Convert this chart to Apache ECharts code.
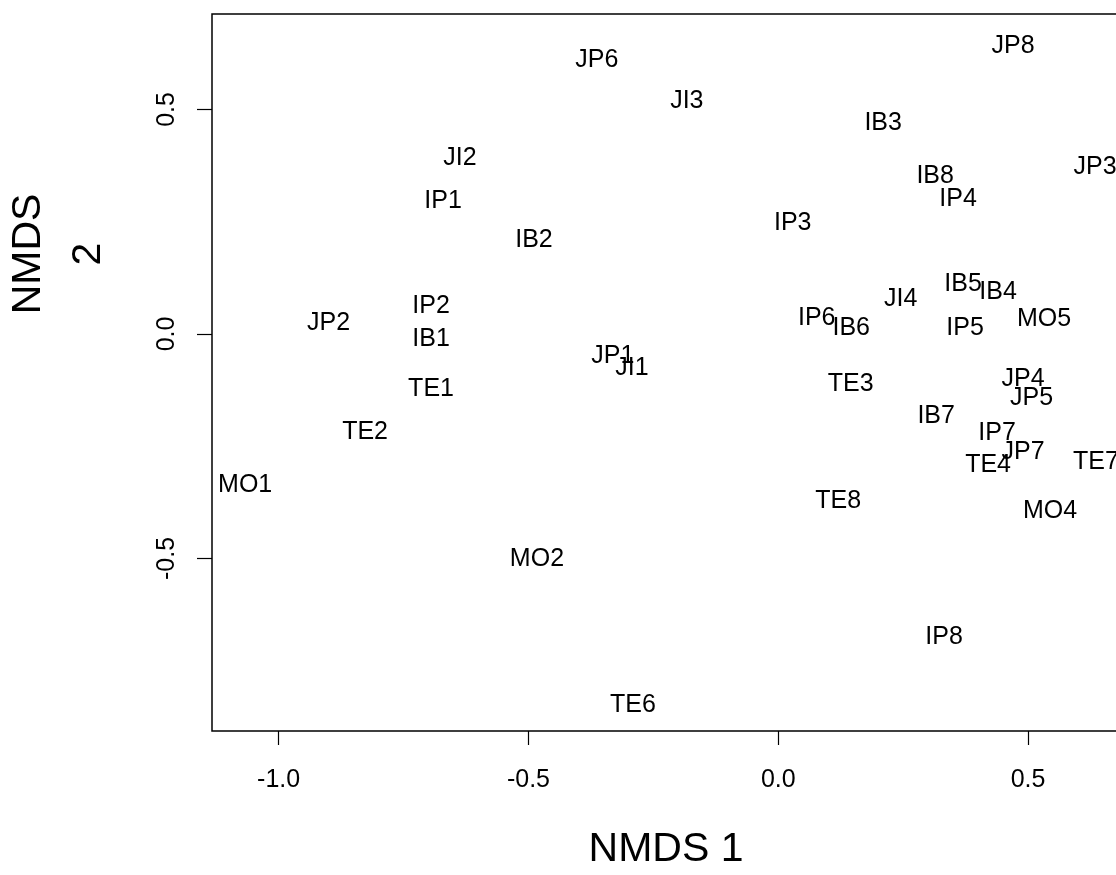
<!DOCTYPE html>
<html>
<head>
<meta charset="utf-8">
<script src="https://cdn.jsdelivr.net/npm/echarts@6/dist/echarts.min.js"></script>
<style>
  html, body { margin: 0; padding: 0; background: #ffffff; overflow: hidden; }
  /* the plot frame runs slightly past the right edge of the window */
  #chart { width: 1124px; height: 875px; }
</style>
</head>
<body>
<div id="chart"></div>
<script>
// NMDS ordination: site labels and their scores on the two axes
const siteLabels = ['JP8','JP6','JI3','IB3','JP3','JI2','IB8','IP4','IP1','IP3',
                    'IB2','IB5','IB4','JI4','IP2','IP6','MO5','JP2','IB6','IP5',
                    'IB1','JP1','JI1','JP4','TE3','TE1','JP5','IB7','TE2','IP7',
                    'JP7','TE7','TE4','MO1','TE8','MO4','MO2','IP8','TE6'];
const nmds1 = [ 0.470,-0.363,-0.183, 0.210, 0.634,-0.637, 0.314, 0.360,-0.671, 0.029,
               -0.489, 0.370, 0.440, 0.245,-0.695, 0.077, 0.532,-0.900, 0.146, 0.374,
               -0.695,-0.331,-0.293, 0.490, 0.145,-0.695, 0.507, 0.316,-0.827, 0.438,
                0.490, 0.636, 0.420,-1.067, 0.120, 0.544,-0.483, 0.332,-0.291];
const nmds2 = [ 0.642, 0.609, 0.519, 0.470, 0.372, 0.391, 0.351, 0.301, 0.296, 0.246,
                0.210, 0.111, 0.094, 0.078, 0.061, 0.036, 0.034, 0.025, 0.014, 0.014,
               -0.012,-0.050,-0.076,-0.100,-0.111,-0.122,-0.144,-0.182,-0.219,-0.221,
               -0.263,-0.285,-0.292,-0.336,-0.373,-0.395,-0.501,-0.675,-0.827];

const xTicks = [-1.0, -0.5, 0.0, 0.5];
const yTicks = [-0.5, 0.0, 0.5];
const xTitle = 'NMDS 1';
const yTitle = 'NMDS\n2';

const points = siteLabels.map((name, i) => ({ name: name, value: [nmds1[i], nmds2[i]] }));

const chart = echarts.init(document.getElementById('chart'), null, { renderer: 'canvas' });

const FONT = 'Liberation Sans, Arial, sans-serif';
const tickFont = { fontFamily: FONT, fontSize: 25, color: '#000' };

chart.setOption({
  animation: false,
  backgroundColor: '#ffffff',
  grid: {
    show: true,
    left: 212, top: 14, right: 4, bottom: 136,
    borderColor: '#000', borderWidth: 1.5,
    backgroundColor: 'transparent'
  },
  xAxis: {
    type: 'value',
    min: -1.1334, max: 0.684,
    axisLine: { show: false, onZero: false },
    splitLine: { show: false },
    axisTick: { show: true, inside: false, length: 14, customValues: xTicks,
                lineStyle: { color: '#000', width: 1.2 } },
    axisLabel: Object.assign({ customValues: xTicks, margin: 37,
                formatter: v => v.toFixed(1) }, tickFont),
    name: xTitle,
    nameLocation: 'middle',
    nameGap: 98,
    nameTextStyle: { fontFamily: FONT, fontSize: 41, color: '#000' }
  },
  yAxis: {
    type: 'value',
    min: -0.8843, max: 0.7126,
    axisLine: { show: false, onZero: false },
    splitLine: { show: false },
    axisTick: { show: true, inside: false, length: 15, customValues: yTicks,
                lineStyle: { color: '#000', width: 1.2 } },
    axisLabel: Object.assign({ customValues: yTicks, margin: 32, rotate: 90,
                formatter: v => v.toFixed(1) }, tickFont)
  },
  graphic: [{
    type: 'text',
    x: 59, y: 254,
    rotation: Math.PI / 2,
    style: {
      text: yTitle,
      fontFamily: FONT,
      fontSize: 41,
      lineHeight: 60,
      fill: '#000',
      align: 'center',
      verticalAlign: 'middle'
    }
  }],
  series: [{
    type: 'scatter',
    data: points,
    symbolSize: 1,
    itemStyle: { color: 'transparent', opacity: 1 },
    label: {
      show: true,
      position: 'inside',
      formatter: p => p.name,
      fontFamily: FONT,
      fontSize: 25,
      color: '#000',
      opacity: 1,
      textBorderWidth: 0
    },
    emphasis: { disabled: true }
  }]
});
</script>
</body>
</html>
